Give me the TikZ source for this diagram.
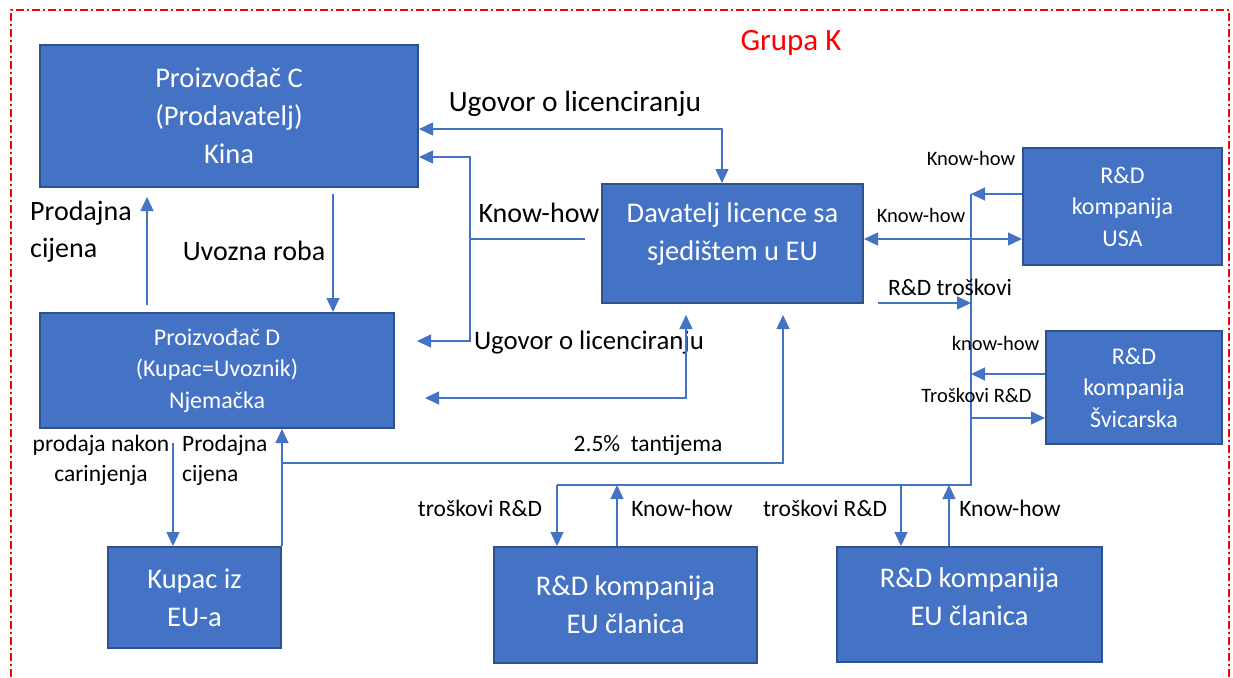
\documentclass[tikz,border=0pt]{standalone}
\usepackage{fontspec}
\setmainfont{Carlito}
\usetikzlibrary{arrows.meta}
\definecolor{boxblue}{HTML}{4472C4}
\definecolor{boxedge}{HTML}{2F528F}
\definecolor{lineblue}{HTML}{4472C4}
\definecolor{grpred}{HTML}{FF0000}
\begin{document}
\begin{tikzpicture}[x=1pt,y=-1pt,
  box/.style={draw=boxedge, line width=2pt, fill=boxblue, inner sep=0pt},
  boxtext/.style={text=white, align=center, inner sep=0pt, font=\fontsize{28.5}{38}\selectfont},
  boxsmall/.style={text=white, align=center, inner sep=0pt, font=\fontsize{24}{31.5}\selectfont},
  conn/.style={draw=lineblue, line width=1.3pt},
  tip/.style={conn, -{Triangle[length=14pt,width=13pt]}},
  tips/.style={conn, {Triangle[length=14pt,width=13pt]}-{Triangle[length=14pt,width=13pt]}},
  lbl/.style={inner sep=0pt, font=\fontsize{28}{37}\selectfont},
  mlbl/.style={inner sep=0pt, align=center, font=\fontsize{23.5}{30}\selectfont},
  slbl/.style={inner sep=0pt, font=\fontsize{20.5}{26}\selectfont}
]
\useasboundingbox (0,0) rectangle (1233,677);

% group frame
\draw[grpred, line width=1.2pt, dash pattern=on 8pt off 3pt on 2pt off 3pt]
  (11,677) -- (11,10) -- (1229,10) -- (1229,677);
\node[text=grpred, inner sep=0pt, font=\fontsize{31}{37}\selectfont] (grp) at (791,43) {Grupa K};

% boxes
\node[box, minimum width=378pt, minimum height=142pt] (C)   at (229,116) {};
\node[box, minimum width=354pt, minimum height=115pt] (D)   at (217,370.5) {};
\node[box, minimum width=173pt, minimum height=101pt] (K)   at (194.5,597.5) {};
\node[box, minimum width=261pt, minimum height=119pt] (Dav) at (732.5,243.5) {};
\node[box, minimum width=199pt, minimum height=117pt] (USA) at (1122.5,206.5) {};
\node[box, minimum width=176pt, minimum height=113pt] (SWI) at (1134,387.5) {};
\node[box, minimum width=263pt, minimum height=116pt] (EU1) at (625.5,605) {};
\node[box, minimum width=265pt, minimum height=115pt] (EU2) at (969.5,604.5) {};

% box texts
\node[boxtext] (Ct)   at (C.center)   {Proizvođač C\\(Prodavatelj)\\Kina};
\node[boxsmall] (Dt)  at (D.center)   {Proizvođač D\\(Kupac=Uvoznik)\\Njemačka};
\node[boxtext] (Kt)   at (K.center)   {Kupac iz\\EU-a};
\node[boxtext] (Davt) at ([yshift=9.5pt]Dav.center) {Davatelj licence sa\\sjedištem u EU};
\node[boxsmall] (USAt) at (USA.center) {R\&D\\kompanija\\USA};
\node[boxsmall] (SWIt) at (SWI.center) {R\&D\\kompanija\\Švicarska};
\node[boxtext] (EU1t) at (EU1.center) {R\&D kompanija\\EU članica};
\node[boxtext] (EU2t) at ([yshift=8pt]EU2.center) {R\&D kompanija\\EU članica};

% licence contract (top)
\coordinate (uc) at (722,129);
\draw[tips] (C.east |- uc) -| (Dav.north -| uc);
\node[lbl, font=\fontsize{29.4}{37}\selectfont] (uct) at (575,104) {Ugovor o licenciranju};

% know-how and contract to C and D
\coordinate (kh0) at (585,239);
\coordinate (kh1) at (470,157);
\coordinate (kh2) at (470,341);
\coordinate (kh3) at (417,341);
\draw[tips] (C.east |- kh1) -- (kh1) -- (kh2) -- (kh3);
\draw[conn] (kh0) -- (kh1 |- kh0);
\node[lbl] (kht) at (539,213) {Know-how};
\node[lbl, font=\fontsize{26.8}{37}\selectfont] (uct2) at (589,342) {Ugovor o licenciranju};

% D <-> licensor
\coordinate (la) at (686,315);
\coordinate (lb) at (686,398);
\coordinate (lc) at (425,398);
\draw[tips] (la) -- (lb) -- (lc);

% C <-> D
\coordinate (pc0) at (147,305);
\coordinate (pc1) at (147,197);
\draw[tip] (pc0) -- (pc1);
\node[lbl, align=left, anchor=west] (pct) at (30,232) {Prodajna\\cijena};
\coordinate (ur0) at (333,194);
\draw[tip] (ur0) -- (D.north -| ur0);
\node[lbl] (urt) at (254,251) {Uvozna roba};

% D <-> buyer, royalty
\coordinate (sd0) at (173,443);
\draw[tip] (sd0) -- (K.north -| sd0);
\node[mlbl] (sdt) at (101,460) {prodaja nakon\\carinjenja};
\draw[tip] (K.north east) -- (D.south -| K.north east);
\node[mlbl, align=left, anchor=west] (pdt) at (182,460) {Prodajna\\cijena};
\coordinate (ry0) at (281,463);
\coordinate (ry1) at (783,463);
\coordinate (ry2) at (783,315);
\draw[tip] (ry0) -- (ry1) -- (ry2);
\node[mlbl] (ryt) at (648,445) {2.5\%\ \ tantijema};

% R&D network
\coordinate (vt) at (971,194);
\coordinate (vb) at (971,485);
\coordinate (hl) at (557,485);
\draw[conn] (vt) -- (vb) -- (hl);
\draw[tip] (USA.west |- vt) -- (vt);
\node[slbl] (usk) at (971,158) {Know-how};
\coordinate (kd) at (863,239);
\draw[tips] (Dav.east |- kd) -- (USA.west |- kd);
\node[slbl] (khr) at (921,215) {Know-how};
\coordinate (rc) at (878,303);
\draw[tip] (rc) -- (vt |- rc);
\node[mlbl] (rct) at (950,287) {R\&D troškovi};
\coordinate (sk) at (971,374);
\draw[tip] (SWI.west |- sk) -- (sk);
\node[slbl] (skt) at (995.5,343) {know-how};
\coordinate (st) at (971,418);
\draw[tip] (st) -- (SWI.west |- st);
\node[slbl] (stt) at (976.5,395) {Troškovi R\&D};

% EU members
\draw[tip] (hl) -- (EU1.north -| hl);
\coordinate (e1k) at (617,485);
\draw[tip] (EU1.north -| e1k) -- (e1k);
\coordinate (e2c) at (901,485);
\draw[tip] (e2c) -- (EU2.north -| e2c);
\coordinate (e2k) at (949,485);
\draw[tip] (EU2.north -| e2k) -- (e2k);
\node[mlbl] (e1ct) at (480,508) {troškovi R\&D};
\node[mlbl] (e1kt) at (682,508) {Know-how};
\node[mlbl] (e2ct) at (825,508) {troškovi R\&D};
\node[mlbl] (e2kt) at (1010,508) {Know-how};
\end{tikzpicture}
\end{document}
